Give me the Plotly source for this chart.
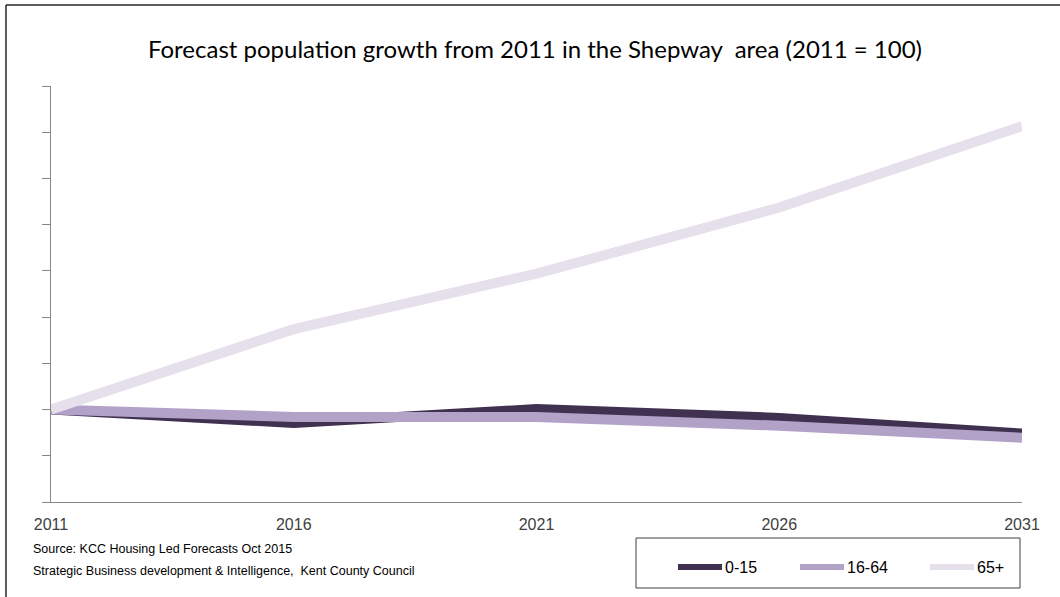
import plotly.graph_objects as go

# Index values (2011 = 100)
years = [2011, 2016, 2021, 2026, 2031]
age_0_15 = [100, 97.1, 100.1, 98.2, 94.8]
age_16_64 = [100, 98.4, 98.4, 96.5, 93.9]
age_65_plus = [100, 117.4, 129.4, 143.7, 161.3]

series_names = ["0-15", "16-64", "65+"]
series_colors = ["#403151", "#b3a2c7", "#e6e0ec"]

W, H = 1060, 597
ML, MR, MT, MB = 51, 38, 86, 95
PW, PH = W - ML - MR, H - MT - MB


def px_x(p):
    return (p - ML) / PW


def px_y(p):
    return (H - MB - p) / PH


sans = "Liberation Sans, Arial, sans-serif"

fig = go.Figure()
for name, vals, col in zip(series_names, [age_0_15, age_16_64, age_65_plus], series_colors):
    fig.add_trace(go.Scatter(
        x=years, y=vals, name=name, mode="lines",
        line=dict(color=col, width=10), showlegend=False,
    ))

fig.update_layout(
    width=W, height=H,
    margin=dict(l=ML, r=MR, t=MT, b=MB),
    paper_bgcolor="white", plot_bgcolor="white",
    title=dict(
        text="Forecast population growth from 2011 in the Shepway&nbsp; area (2011 = 100)",
        xref="container", x=535 / W, xanchor="center", y=1 - 50 / H, yanchor="middle",
        font=dict(family="Lato, Carlito, sans-serif", size=24, color="#000000"),
    ),
    xaxis=dict(
        range=[2011, 2031], tickvals=years, ticktext=[str(y) for y in years],
        showgrid=False, zeroline=False, showline=True, linecolor="#868686", linewidth=1,
        ticks="", ticklabelstandoff=8,
        tickfont=dict(family=sans, size=16, color="#404040"),
    ),
    yaxis=dict(
        range=[80, 170], dtick=10, showgrid=False, zeroline=False,
        showline=True, linecolor="#868686", linewidth=1,
        ticks="outside", ticklen=8, tickcolor="#868686", showticklabels=False,
    ),
    showlegend=False,
)

# Legend box with a line sample and label per series
fig.add_shape(type="rect", xref="paper", yref="paper",
              x0=px_x(636), x1=px_x(1020), y0=px_y(538), y1=px_y(588),
              line=dict(color="#404040", width=1), fillcolor="white")
legend_starts = [678, 800, 930]
for name, col, x0 in zip(series_names, series_colors, legend_starts):
    fig.add_shape(type="line", xref="paper", yref="paper",
                  x0=px_x(x0), x1=px_x(x0 + 44), y0=px_y(567), y1=px_y(567),
                  line=dict(color=col, width=6))
    fig.add_annotation(xref="paper", yref="paper", x=px_x(x0 + 45), y=px_y(567),
                       xanchor="left", yanchor="middle", text=name, showarrow=False,
                       font=dict(family=sans, size=16, color="#000000"))

# Source notes
fig.add_annotation(
    xref="paper", yref="paper", x=px_x(31), y=px_y(549), xanchor="left", yanchor="middle",
    text="Source: KCC Housing Led Forecasts Oct 2015", showarrow=False,
    font=dict(family=sans, size=12.5, color="#000000"),
)
fig.add_annotation(
    xref="paper", yref="paper", x=px_x(31), y=px_y(571), xanchor="left", yanchor="middle",
    text="Strategic Business development &amp; Intelligence,&nbsp; Kent County Council", showarrow=False,
    font=dict(family=sans, size=12.5, color="#000000"),
)

# Outer chart frame
fig.add_shape(type="line", xref="paper", yref="paper",
              x0=px_x(6), x1=px_x(6), y0=px_y(5), y1=px_y(620),
              line=dict(color="#262626", width=1.5))
fig.add_shape(type="line", xref="paper", yref="paper",
              x0=px_x(6), x1=px_x(1080), y0=px_y(5), y1=px_y(5),
              line=dict(color="#262626", width=1.5))

fig.write_html("out.html")
